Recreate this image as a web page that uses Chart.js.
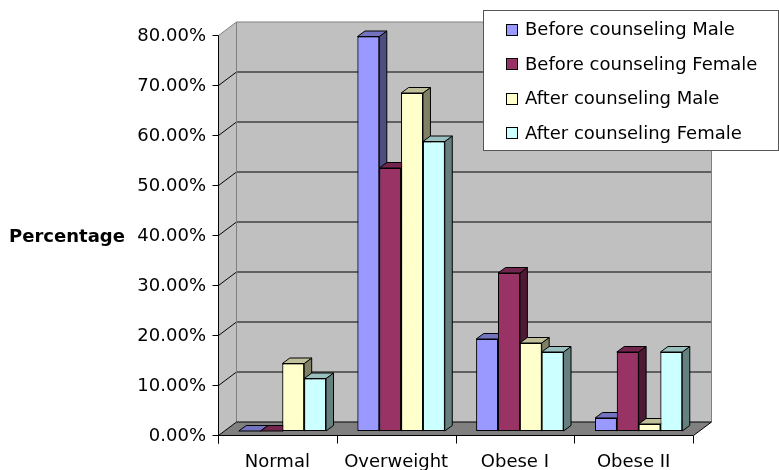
<!DOCTYPE html>
<html>
<head>
<meta charset="utf-8">
<script src="https://cdn.jsdelivr.net/npm/chart.js@4/dist/chart.umd.min.js"></script>
<style>
  html, body { margin: 0; padding: 0; background: #ffffff; }
  #wrap { width: 779px; height: 470px; }
</style>
</head>
<body>
<div id="wrap"><canvas id="chart" width="779" height="470"></canvas></div>
<script>
// Weight categories and the share of each group (in %) falling in each one
const categories = ['Normal', 'Overweight', 'Obese I', 'Obese II'];
const beforeMale   = [0,    78.9, 18.4, 2.6];
const beforeFemale = [0,    52.6, 31.6, 15.8];
const afterMale    = [13.5, 67.6, 17.6, 1.4];
const afterFemale  = [10.5, 57.9, 15.8, 15.8];
const seriesNames  = ['Before counseling Male', 'Before counseling Female',
                      'After counseling Male', 'After counseling Female'];
const yMin = 0, yMax = 80, yStep = 10;
const axisTitle = 'Percentage';

// Face colours: front, side, top
const palette = [
  { front: '#9999ff', side: '#4d4d80', top: '#7373bf' },
  { front: '#993366', side: '#4d1a33', top: '#73264d' },
  { front: '#ffffcc', side: '#808066', top: '#bfbf99' },
  { front: '#ccffff', side: '#668080', top: '#99bfbf' }
];

const FONT = '"DejaVu Sans", Arial, sans-serif';
// Offsets between the bar plane (where the scales live) and the front / back planes
const FRONT = { dx: -5, dy: 5 };
const DEPTH = { dx: 18, dy: -13.5 };   // front plane -> back wall
const BAR_DEPTH = { dx: 7.5, dy: -5.5 };

function poly(ctx, pts, fill, stroke) {
  ctx.beginPath();
  ctx.moveTo(pts[0][0], pts[0][1]);
  for (let i = 1; i < pts.length; i++) ctx.lineTo(pts[i][0], pts[i][1]);
  ctx.closePath();
  if (fill) { ctx.fillStyle = fill; ctx.fill(); }
  if (stroke) { ctx.strokeStyle = stroke; ctx.lineWidth = 1; ctx.stroke(); }
}
function line(ctx, x1, y1, x2, y2, color) {
  ctx.beginPath();
  ctx.moveTo(x1, y1); ctx.lineTo(x2, y2);
  ctx.strokeStyle = color; ctx.lineWidth = 1; ctx.stroke();
}

// Walls, floor, gridlines, front axes and the 3D bar faces
const frame3d = {
  id: 'frame3d',
  beforeDatasetsDraw(chart) {
    const { ctx, scales: { x, y } } = chart;
    const L = Math.round(x.left + FRONT.dx) + 0.5;
    const R = Math.round(x.right + FRONT.dx) + 0.5;
    const fy = v => Math.round(y.getPixelForValue(v) + FRONT.dy) - 0.5;
    const top = fy(yMax), bot = fy(yMin);
    const dx = DEPTH.dx, dy = DEPTH.dy;
    ctx.save();
    // back wall
    poly(ctx, [[L + dx, top + dy], [R + dx, top + dy], [R + dx, bot + dy], [L + dx, bot + dy]], '#c0c0c0', null);
    // side wall
    poly(ctx, [[L, top], [L + dx, top + dy], [L + dx, bot + dy], [L, bot]], '#c0c0c0', null);
    // floor
    poly(ctx, [[L, bot], [R, bot], [R + dx, bot + dy], [L + dx, bot + dy]], '#808080', null);
    // gridlines across side and back walls
    for (let v = yMin + yStep; v < yMax; v += yStep) {
      const yy = fy(v);
      line(ctx, L, yy, L + dx, yy + dy, '#000000');
      line(ctx, L + dx, yy + dy, R + dx, yy + dy, '#000000');
    }
    // wall outlines
    ctx.beginPath();
    ctx.moveTo(L, top); ctx.lineTo(L + dx, top + dy); ctx.lineTo(R + dx, top + dy);
    ctx.lineTo(R + dx, bot + dy);
    ctx.moveTo(L + dx, top + dy); ctx.lineTo(L + dx, bot + dy);
    ctx.strokeStyle = '#808080'; ctx.lineWidth = 1; ctx.stroke();
    // floor edges
    line(ctx, L, bot, L + dx, bot + dy, '#000000');
    line(ctx, L + dx, bot + dy, R + dx, bot + dy, '#000000');
    line(ctx, R, bot, R + dx, bot + dy, '#000000');
    // front value axis with ticks
    line(ctx, L, top, L, bot + 8, '#000000');
    for (let v = yMin; v <= yMax; v += yStep) line(ctx, L - 6, fy(v), L, fy(v), '#000000');
    // front category axis with ticks at category boundaries
    line(ctx, L, bot, R, bot, '#000000');
    const n = categories.length;
    for (let i = 0; i <= n; i++) {
      const xx = Math.round(L + (R - L) * i / n - 0.5) + 0.5;
      line(ctx, xx, bot, xx, bot + 8, '#000000');
    }
    ctx.restore();
  },
  // Redraw the bars series by series (first series first) so each front face
  // overlaps the side face of the bar to its left, adding side and top faces.
  afterDatasetsDraw(chart) {
    const { ctx } = chart;
    ctx.save();
    ctx.lineJoin = 'miter';
    chart.data.datasets.forEach((ds, i) => {
      const meta = chart.getDatasetMeta(i);
      const c = palette[i];
      meta.data.forEach(bar => {
        bar.draw(ctx);
        const p = bar.getProps(['x', 'y', 'base', 'width'], true);
        const x0 = p.x - p.width / 2, x1 = p.x + p.width / 2;
        const yt = Math.min(p.y, p.base), yb = p.base;
        const ddx = BAR_DEPTH.dx, ddy = BAR_DEPTH.dy;
        poly(ctx, [[x1, yt], [x1 + ddx, yt + ddy], [x1 + ddx, yb + ddy], [x1, yb]], c.side, '#000000');
        poly(ctx, [[x0, yt], [x1, yt], [x1 + ddx, yt + ddy], [x0 + ddx, yt + ddy]], c.top, '#000000');
      });
    });
    ctx.restore();
  },
  // horizontal axis title and the boxed legend
  afterDraw(chart) {
    const { ctx, scales: { y } } = chart;
    ctx.save();
    ctx.fillStyle = '#000000';
    ctx.font = 'bold 18px ' + FONT;
    ctx.textAlign = 'center';
    ctx.textBaseline = 'middle';
    ctx.fillText(axisTitle, 67, y.getPixelForValue(40) + FRONT.dy + 1);

    const bx = 483.5, by = 10.5, bw = 295, bh = 140;
    ctx.fillStyle = '#ffffff';
    ctx.fillRect(bx, by, bw, bh);
    ctx.strokeStyle = '#555555'; ctx.lineWidth = 1;
    ctx.strokeRect(bx, by, bw, bh);
    ctx.font = '18px ' + FONT;
    ctx.textAlign = 'left';
    chart.data.datasets.forEach((ds, i) => {
      const cy = 29.5 + i * 34.5;
      ctx.fillStyle = ds.backgroundColor;
      ctx.fillRect(506.5, Math.round(cy - 6) + 0.5, 11, 11);
      ctx.strokeStyle = '#000000';
      ctx.strokeRect(506.5, Math.round(cy - 6) + 0.5, 11, 11);
      ctx.fillStyle = '#000000';
      ctx.fillText(ds.label, 525, cy + 1);
    });
    ctx.restore();
  }
};

const seriesValues = [beforeMale, beforeFemale, afterMale, afterFemale];

new Chart(document.getElementById('chart'), {
  type: 'bar',
  data: {
    labels: categories,
    datasets: seriesValues.map((vals, i) => ({
      label: seriesNames[i],
      data: vals,
      backgroundColor: palette[i].front,
      borderColor: '#000000',
      borderWidth: 1,
      borderSkipped: false,
      categoryPercentage: 0.735,
      barPercentage: 1.0
    }))
  },
  options: {
    responsive: false,
    animation: false,
    events: [],
    layout: { padding: { left: 0, top: 31, right: 81, bottom: 0 } },
    plugins: { legend: { display: false }, tooltip: { enabled: false } },
    scales: {
      x: {
        grid: { display: false, drawTicks: false },
        border: { display: false },
        ticks: { color: '#000000', font: { family: FONT, size: 18 }, padding: 21, labelOffset: FRONT.dx, maxRotation: 0 },
        afterFit(scale) { scale.height = 39; }
      },
      y: {
        min: yMin, max: yMax,
        grid: { display: false, drawTicks: false },
        border: { display: false },
        ticks: {
          stepSize: yStep, color: '#000000', font: { family: FONT, size: 18 },
          padding: 17, labelOffset: FRONT.dy,
          callback: v => v.toFixed(2) + '%'
        },
        afterFit(scale) { scale.width = 223; }
      }
    }
  },
  plugins: [frame3d]
});
</script>
</body>
</html>
